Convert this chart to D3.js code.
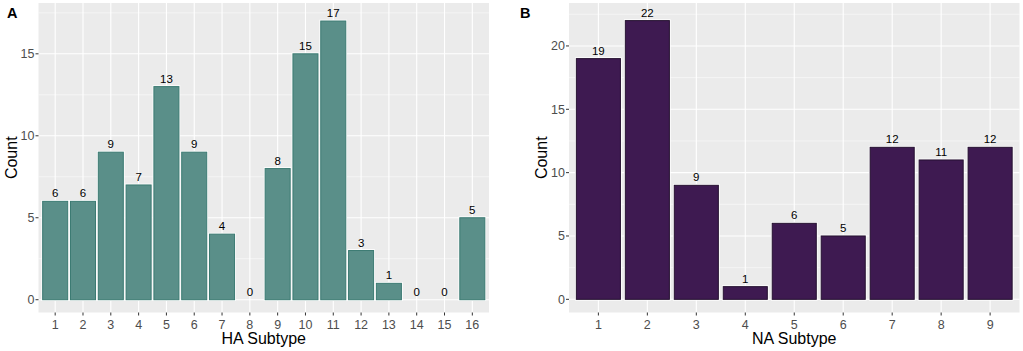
<!DOCTYPE html>
<html>
<head>
<meta charset="utf-8">
<script src="https://cdn.jsdelivr.net/npm/d3@7"></script>
<style>
  body { margin: 0; background: #fff; }
  svg { display: block; font-family: "Liberation Sans", Arial, sans-serif; }
  .grid-major { stroke: #fff; stroke-width: 1.1; }
  .grid-minor { stroke: #fff; stroke-width: 0.5; }
  .tick-label { fill: #4d4d4d; font-size: 12.5px; }
  .axis-title { fill: #000; font-size: 16px; }
  .bar-label { fill: #000; font-size: 11.5px; }
  .panel-tag { fill: #000; font-size: 14.5px; font-weight: bold; }
</style>
</head>
<body>
<svg width="1023" height="351"></svg>
<script>
// panel A data
var haSubtypes = ["1","2","3","4","5","6","7","8","9","10","11","12","13","14","15","16"];
var haCounts = [6, 6, 9, 7, 13, 9, 4, 0, 8, 15, 17, 3, 1, 0, 0, 5];
var haTicks = [0, 5, 10, 15];
var haMinor = [2.5, 7.5, 12.5, 17.5];

// panel B data
var naSubtypes = ["1","2","3","4","5","6","7","8","9"];
var naCounts = [19, 22, 9, 1, 6, 5, 12, 11, 12];
var naTicks = [0, 5, 10, 15, 20];
var naMinor = [2.5, 7.5, 12.5, 17.5, 22.5];

var svg = d3.select("svg");

var drawPanel = function(opt)
{
    var g = svg.append("g");

    // ggplot-style discrete axis: centres sit 0.6 step in from the panel edge
    var xScale = d3.scaleBand()
        .domain(opt.cats)
        .range([opt.left, opt.right])
        .paddingInner(0)
        .paddingOuter(0.1);

    var yScale = d3.scaleLinear()
        .domain(opt.yDomain)
        .range([opt.bottom, opt.top]);

    // panel background
    g.append("rect")
        .attr("x", opt.left)
        .attr("y", opt.top)
        .attr("width", opt.right - opt.left)
        .attr("height", opt.bottom - opt.top)
        .attr("fill", "#ebebeb");

    g.selectAll(".grid-minor")
        .data(opt.minor)
        .enter()
        .append("line")
        .classed("grid-minor", true)
        .attr("x1", opt.left)
        .attr("x2", opt.right)
        .attr("y1", function(d) { return yScale(d); })
        .attr("y2", function(d) { return yScale(d); });

    g.selectAll(".grid-major.h")
        .data(opt.ticks)
        .enter()
        .append("line")
        .attr("class", "grid-major h")
        .attr("x1", opt.left)
        .attr("x2", opt.right)
        .attr("y1", function(d) { return yScale(d); })
        .attr("y2", function(d) { return yScale(d); });

    var cx = function(d) { return xScale(d) + xScale.bandwidth() / 2; };

    g.selectAll(".grid-major.v")
        .data(opt.cats)
        .enter()
        .append("line")
        .attr("class", "grid-major v")
        .attr("x1", cx)
        .attr("x2", cx)
        .attr("y1", opt.top)
        .attr("y2", opt.bottom);

    var barW = xScale.bandwidth() * 0.9;
    var rows = opt.cats.map(function(c, i) { return {cat: c, val: opt.vals[i]}; });

    // white halo round bars
    g.selectAll(".halo")
        .data(rows)
        .enter()
        .append("rect")
        .attr("x", function(d) { return cx(d.cat) - barW / 2; })
        .attr("y", function(d) { return yScale(d.val); })
        .attr("width", barW)
        .attr("height", function(d) { return yScale(0) - yScale(d.val); })
        .attr("fill", "none")
        .attr("stroke", function(d) { return d.val > 0 ? "#fff" : "none"; })
        .attr("stroke-width", 2.6);

    g.selectAll(".bar")
        .data(rows)
        .enter()
        .append("rect")
        .attr("x", function(d) { return cx(d.cat) - barW / 2; })
        .attr("y", function(d) { return yScale(d.val); })
        .attr("width", barW)
        .attr("height", function(d) { return yScale(0) - yScale(d.val); })
        .attr("fill", opt.fill)
        .attr("stroke", function(d) { return d.val > 0 ? opt.stroke : "none"; })
        .attr("stroke-width", 1);

    g.selectAll(".bar-label")
        .data(rows)
        .enter()
        .append("text")
        .classed("bar-label", true)
        .attr("text-anchor", "middle")
        .attr("x", function(d) { return cx(d.cat); })
        .attr("y", function(d) { return yScale(d.val) - 4; })
        .text(function(d) { return d.val; });

    // y ticks
    g.selectAll(".ytick")
        .data(opt.ticks)
        .enter()
        .append("line")
        .attr("x1", opt.left - 3)
        .attr("x2", opt.left)
        .attr("y1", function(d) { return yScale(d); })
        .attr("y2", function(d) { return yScale(d); })
        .attr("stroke", "#333");

    g.selectAll(".ylab")
        .data(opt.ticks)
        .enter()
        .append("text")
        .classed("tick-label", true)
        .attr("text-anchor", "end")
        .attr("x", opt.left - 4)
        .attr("y", function(d) { return yScale(d) + 4.5; })
        .text(function(d) { return d; });

    // x ticks
    g.selectAll(".xtick")
        .data(opt.cats)
        .enter()
        .append("line")
        .attr("x1", cx)
        .attr("x2", cx)
        .attr("y1", opt.bottom)
        .attr("y2", opt.bottom + 3)
        .attr("stroke", "#333");

    g.selectAll(".xlab")
        .data(opt.cats)
        .enter()
        .append("text")
        .classed("tick-label", true)
        .attr("text-anchor", "middle")
        .attr("x", cx)
        .attr("y", opt.bottom + 16)
        .text(function(d) { return d; });

    g.append("text")
        .classed("axis-title", true)
        .attr("text-anchor", "middle")
        .attr("x", (opt.left + opt.right) / 2)
        .attr("y", 344)
        .text(opt.xTitle);

    g.append("g")
        .attr("transform", "translate(" + opt.yTitleX + "," + ((opt.top + opt.bottom) / 2) + ")")
        .append("text")
        .classed("axis-title", true)
        .attr("text-anchor", "middle")
        .attr("transform", "rotate(-90)")
        .text("Count");

    g.append("text")
        .classed("panel-tag", true)
        .attr("x", opt.tagX)
        .attr("y", 18)
        .text(opt.tag);
};

drawPanel({
    cats: haSubtypes, vals: haCounts, ticks: haTicks, minor: haMinor,
    left: 38.5, right: 489, top: 3, bottom: 312.5,
    yDomain: [-0.78, 18.1],
    fill: "#5a8f89", stroke: "#3b7a72",
    xTitle: "HA Subtype", yTitleX: 17, tag: "A", tagX: 7
});

drawPanel({
    cats: naSubtypes, vals: naCounts, ticks: naTicks, minor: naMinor,
    left: 569, right: 1019.5, top: 3, bottom: 312.5,
    yDomain: [-1.04, 23.39],
    fill: "#3e1a51", stroke: "#24102f",
    xTitle: "NA Subtype", yTitleX: 547, tag: "B", tagX: 520
});
</script>
</body>
</html>
